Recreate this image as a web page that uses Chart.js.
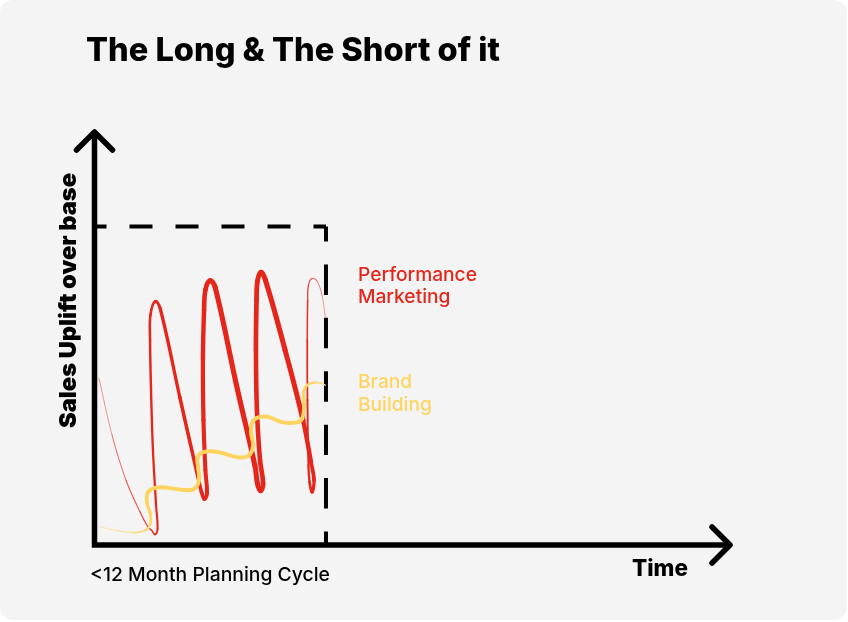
<!DOCTYPE html>
<html>
<head>
<meta charset="utf-8">
<script src="https://cdn.jsdelivr.net/npm/chart.js@4.4.1/dist/chart.umd.min.js"></script>
<style>
  html, body { margin: 0; padding: 0; background: #fff; }
  .card { position: relative; width: 847px; height: 620px; background: #f4f4f4; border-radius: 13px; }
  canvas { position: absolute; left: 0; top: 0; }
</style>
</head>
<body>
<div class="card"><canvas id="myChart" width="848" height="622"></canvas></div>
<script>
// x = months, y = sales uplift index (dashed box top = 100)
var planningMonths = 12;
var boxTop = 100;
var xMax = 33.1;
var yMax = 130.6;

var perfX = [0.23, 0.91, 1.63, 2.36, 2.77, 2.95, 3.14, 3.27, 3.19, 3.03, 2.93, 2.88, 2.90, 3.14, 3.40,
  4.43, 5.42, 5.55, 5.70, 5.83, 5.75, 5.65, 5.62, 5.68, 5.75, 5.99, 6.25,
  7.36, 8.32, 8.45, 8.61, 8.74, 8.58, 8.42, 8.37, 8.40, 8.45, 8.63, 8.86,
  9.88, 10.81, 11.22, 11.38, 11.28, 11.15, 11.09, 11.04, 11.03, 11.05, 11.09, 11.28, 11.53, 11.79, 11.96];
var perfY = [52.4, 34.5, 20.4, 10.4, 5.7, 4.7, 3.3, 5.0, 12.6, 29.8, 48.7, 64.4, 72.2, 76.5, 74.4,
  46.2, 19.8, 16.6, 14.4, 16.3, 23.5, 39.2, 58.1, 73.8, 80.1, 83.0, 81.0,
  50.2, 24.8, 19.2, 17.0, 19.2, 26.7, 42.4, 61.2, 76.9, 82.9, 85.6, 83.2,
  61.2, 39.2, 26.1, 20.4, 16.6, 19.8, 25.1, 45.5, 64.4, 76.9, 81.6, 83.7, 82.9, 78.5, 71.7];

var brandX = [0.29, 1.11, 2.00, 2.62, 2.90, 2.88, 2.72, 2.75, 3.03, 3.55, 4.59, 5.16, 5.42, 5.37, 5.34,
  5.57, 6.33, 7.37, 7.96, 8.22, 8.11, 8.16, 8.42, 8.94, 9.77, 10.50, 10.78, 10.86, 10.83, 11.02, 11.38, 11.69, 11.96];
var brandY = [5.7, 4.6, 3.9, 4.6, 6.6, 10.0, 13.2, 16.3, 17.7, 18.1, 17.3, 17.6, 20.4, 24.5, 27.3,
  29.0, 29.3, 27.6, 27.9, 31.1, 35.5, 38.3, 39.9, 40.3, 38.5, 38.5, 39.9, 44.3, 48.0, 50.2, 51.0, 50.9, 50.2];

var boxX = [0, planningMonths, planningMonths];
var boxY = [boxTop, boxTop, 0];

var red = '#e4261b';
var yellow = '#fed461';
var bg = [244, 244, 244];
var font = "Inter, 'Open Sans', sans-serif";

// stroke width / fade along each line (progress 0..1)
var perfWidth = [[0, 0.8], [0.094, 1.5], [0.15, 2.2], [0.245, 2.7], [0.28, 3.5], [0.4, 4.2], [0.51, 5.2],
  [0.62, 4.5], [0.74, 5.2], [0.79, 3.6], [0.85, 2.0], [0.92, 1.3], [1, 0.8]];
var perfFade = [[0, 0.5], [0.08, 0.9], [0.12, 1], [0.88, 1], [0.95, 0.7], [1, 0.45]];
var brandWidth = [[0, 0.8], [0.1, 2.2], [0.22, 4], [0.8, 4], [0.9, 2.8], [1, 1.3]];
var brandFade = [[0, 0.4], [0.15, 1], [0.9, 1], [1, 0.7]];

function lerpStops(stops, p) {
  for (var i = 1; i < stops.length; i++) {
    if (p <= stops[i][0]) {
      var a = stops[i - 1], b = stops[i];
      var t = (p - a[0]) / (b[0] - a[0]);
      return a[1] + (b[1] - a[1]) * t;
    }
  }
  return stops[stops.length - 1][1];
}

function mix(hex, a) {
  var r = parseInt(hex.substr(1, 2), 16), g = parseInt(hex.substr(3, 2), 16), b = parseInt(hex.substr(5, 2), 16);
  return 'rgb(' + Math.round(r * a + bg[0] * (1 - a)) + ',' + Math.round(g * a + bg[1] * (1 - a)) + ',' + Math.round(b * a + bg[2] * (1 - a)) + ')';
}

function points(xs, ys) {
  return xs.map(function (x, i) { return { x: x, y: ys[i] }; });
}

function progress(ctx, n) {
  return (ctx.p0DataIndex + 0.5) / (n - 1);
}

function fitFont(c, text, width, weight) {
  c.font = weight + ' 100px ' + font;
  var s = 100 * width / c.measureText(text).width;
  return weight + ' ' + s.toFixed(2) + 'px ' + font;
}

var decor = {
  id: 'decor',
  afterDatasetsDraw: function (chart) {
    var c = chart.ctx, xs = chart.scales.x, ys = chart.scales.y;
    var x0 = xs.getPixelForValue(0), y0 = ys.getPixelForValue(0);
    var xEnd = xs.getPixelForValue(xs.max), yEnd = ys.getPixelForValue(ys.max);
    c.save();
    c.strokeStyle = '#000';
    c.lineWidth = 5.5;
    c.lineJoin = 'miter';
    c.beginPath();
    c.moveTo(x0, yEnd + 3);
    c.lineTo(x0, y0);
    c.lineTo(xEnd - 3, y0);
    c.stroke();
    c.lineCap = 'round';
    c.lineJoin = 'round';
    c.beginPath();
    c.moveTo(x0 - 18, yEnd + 21);
    c.lineTo(x0, yEnd + 3);
    c.lineTo(x0 + 18, yEnd + 21);
    c.stroke();
    c.beginPath();
    c.moveTo(xEnd - 21, y0 - 18);
    c.lineTo(xEnd - 3, y0);
    c.lineTo(xEnd - 21, y0 + 18);
    c.stroke();
    c.restore();
  },
  afterDraw: function (chart) {
    var c = chart.ctx;
    var labelX = chart.scales.x.getPixelForValue(planningMonths) + 32;
    c.save();
    c.textBaseline = 'alphabetic';
    c.textAlign = 'left';
    c.fillStyle = '#000';

    c.font = fitFont(c, 'The Long & The Short of it', 414, 800);
    c.fillText('The Long & The Short of it', 86, 61);

    c.font = fitFont(c, 'Time', 56, 800);
    c.fillText('Time', 632, 576);

    c.font = fitFont(c, '<12 Month Planning Cycle', 240, 500);
    c.fillText('<12 Month Planning Cycle', 90, 581);

    c.fillStyle = red;
    c.font = fitFont(c, 'Performance', 119, 500);
    c.fillText('Performance', labelX, 281);
    c.fillText('Marketing', labelX, 303);

    c.fillStyle = yellow;
    c.fillText('Brand', labelX, 388);
    c.fillText('Building', labelX, 411);

    c.fillStyle = '#000';
    c.translate(76, 300.5);
    c.rotate(-Math.PI / 2);
    c.textAlign = 'center';
    c.font = fitFont(c, 'Sales Uplift over base', 255, 900);
    c.fillText('Sales Uplift over base', 0, 0);
    c.restore();
  }
};

var ctx = document.getElementById('myChart');

var myChart = new Chart(ctx, {
  type: 'scatter',
  data: {
    datasets: [
      {
        label: 'Brand Building',
        data: points(brandX, brandY),
        showLine: true,
        pointRadius: 0,
        tension: 0.4,
        borderColor: yellow,
        borderCapStyle: 'round',
        borderJoinStyle: 'round',
        clip: false,
        order: 1,
        segment: {
          borderWidth: function (c) { return lerpStops(brandWidth, progress(c, brandX.length)); },
          borderColor: function (c) { return mix(yellow, lerpStops(brandFade, progress(c, brandX.length))); }
        }
      },
      {
        label: 'Performance Marketing',
        data: points(perfX, perfY),
        showLine: true,
        pointRadius: 0,
        tension: 0.4,
        borderColor: red,
        borderCapStyle: 'round',
        borderJoinStyle: 'round',
        clip: false,
        order: 2,
        segment: {
          borderWidth: function (c) { return lerpStops(perfWidth, progress(c, perfX.length)); },
          borderColor: function (c) { return mix(red, lerpStops(perfFade, progress(c, perfX.length))); }
        }
      },
      {
        label: 'Planning cycle',
        data: points(boxX, boxY),
        showLine: true,
        pointRadius: 0,
        tension: 0,
        borderColor: '#000',
        borderWidth: 4,
        clip: false,
        order: 3,
        segment: {
          borderDash: function (c) { return c.p0DataIndex === 0 ? [23, 23] : [26.7, 26.7]; },
          borderDashOffset: function (c) { return c.p0DataIndex === 0 ? 11 : 15.4; }
        }
      }
    ]
  },
  options: {
    responsive: false,
    animation: false,
    events: [],
    layout: { padding: { left: 94.5, right: 848 - 733, top: 129, bottom: 622 - 545 } },
    scales: {
      x: { type: 'linear', min: 0, max: xMax, display: false },
      y: { type: 'linear', min: 0, max: yMax, display: false }
    },
    elements: { line: { capBezierPoints: false } },
    plugins: {
      legend: { display: false },
      tooltip: { enabled: false }
    }
  },
  plugins: [decor]
});
</script>
</body>
</html>
